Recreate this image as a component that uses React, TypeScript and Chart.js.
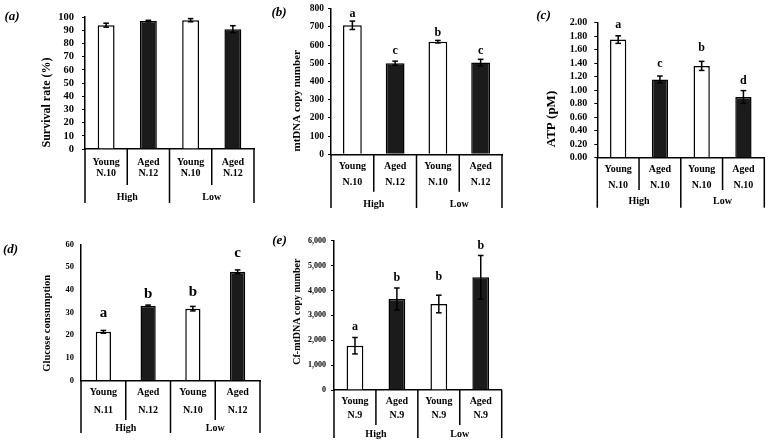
import React, { useEffect, useRef } from "react";
import { Chart, registerables } from "chart.js";

Chart.register(...registerables);

// ---------- data ----------
const groupLabels = ["High", "Low"];
const ageLabels = ["Young", "Aged", "Young", "Aged"];

const aSizes = ["N.10", "N.12", "N.10", "N.12"];
const aValues = [93.8, 96.9, 97.6, 90.8];
const aErrors = [1.5, 0.6, 1.2, 2.6];
const aLetters: string[] = [];
const aLetterLevels: number[] = [];

const bSizes = ["N.10", "N.12", "N.10", "N.12"];
const bValues = [709, 501, 619, 504];
const bErrors = [23, 11, 7, 18];
const bLetters = ["a", "c", "b", "c"];
const bLetterLevels = [771, 568, 667, 568];

const cSizes = ["N.10", "N.10", "N.10", "N.10"];
const cValues = [1.75, 1.16, 1.36, 0.9];
const cErrors = [0.056, 0.05, 0.067, 0.094];
const cLetters = ["a", "c", "b", "d"];
const cLetterLevels = [1.966, 1.386, 1.63, 1.134];

const dSizes = ["N.11", "N.12", "N.10", "N.12"];
const dValues = [21.4, 32.9, 31.6, 47.9];
const dErrors = [0.6, 0.3, 1.0, 0.8];
const dLetters = ["a", "b", "b", "c"];
const dLetterLevels = [29.6, 37.9, 39.1, 56];

const eSizes = ["N.9", "N.9", "N.9", "N.9"];
const eValues = [1780, 3657, 3456, 4529];
const eErrors = [330, 442, 354, 877];
const eLetters = ["a", "b", "b", "b"];
const eLetterLevels = [2545, 4489, 4555, 5800];

// ---------- styles / layout ----------
const SERIF = "'Times New Roman', 'Liberation Serif', serif";
const BAR_COLORS = ["#ffffff", "#1b1b1b", "#ffffff", "#1b1b1b"];

type Panel = {
  id: string;
  label: string;
  title: string;
  sizes: string[];
  values: number[];
  errors: number[];
  letters: string[];
  letterLevels: number[];
  max: number;
  step: number;
  fmt: (v: number) => string;
  left: number; top: number; w: number; h: number;
  axisX: number; plotRight: number; plotTop: number; plotBottom: number;
  tableBottom: number; innerBottom: number; line1Y: number; lineH: number; groupY: number;
  tickFont: number; tickLen: number; tickPad: number; barPct: number;
  titleX: number; titleY: number; titleSize: number;
  labelX: number; labelY: number; letterSize: number;
};

const intFmt = (v: number) => String(Math.round(v));

const panels: Panel[] = [
  {
    id: "a", label: "(a)", title: "Survival rate (%)",
    sizes: aSizes, values: aValues, errors: aErrors, letters: aLetters, letterLevels: aLetterLevels,
    max: 100, step: 10, fmt: intFmt,
    left: 0, top: 0, w: 262, h: 215,
    axisX: 85, plotRight: 254, plotTop: 17, plotBottom: 149,
    tableBottom: 203, innerBottom: 185, line1Y: 162, lineH: 11.6, groupY: 197,
    tickFont: 10.5, tickLen: 3, tickPad: 8, barPct: 0.4,
    titleX: 47, titleY: 102.5, titleSize: 12, labelX: 12, labelY: 17, letterSize: 12,
  },
  {
    id: "b", label: "(b)", title: "mtDNA copy number",
    sizes: bSizes, values: bValues, errors: bErrors, letters: bLetters, letterLevels: bLetterLevels,
    max: 800, step: 100, fmt: intFmt,
    left: 262, top: 0, w: 250, h: 215,
    axisX: 331, plotRight: 502, plotTop: 7.3, plotBottom: 154.3,
    tableBottom: 208, innerBottom: 191.7, line1Y: 166.7, lineH: 16, groupY: 204,
    tickFont: 9.5, tickLen: 3, tickPad: 4, barPct: 0.44,
    titleX: 297, titleY: 100.8, titleSize: 11, labelX: 279, labelY: 13, letterSize: 12,
  },
  {
    id: "c", label: "(c)", title: "ATP (pM)",
    sizes: cSizes, values: cValues, errors: cErrors, letters: cLetters, letterLevels: cLetterLevels,
    max: 2, step: 0.2, fmt: (v: number) => v.toFixed(2),
    left: 512, top: 0, w: 258, h: 215,
    axisX: 597.3, plotRight: 764.3, plotTop: 22.7, plotBottom: 157.7,
    tableBottom: 207.7, innerBottom: 190, line1Y: 169, lineH: 16, groupY: 201.7,
    tickFont: 10, tickLen: 3, tickPad: 7, barPct: 0.39,
    titleX: 552, titleY: 119, titleSize: 13, labelX: 543.5, labelY: 16, letterSize: 12,
  },
  {
    id: "d", label: "(d)", title: "Glucose consumption",
    sizes: dSizes, values: dValues, errors: dErrors, letters: dLetters, letterLevels: dLetterLevels,
    max: 60, step: 10, fmt: intFmt,
    left: 0, top: 215, w: 265, h: 228,
    axisX: 81, plotRight: 260, plotTop: 244.3, plotBottom: 380.3,
    tableBottom: 433, innerBottom: 420, line1Y: 392.7, lineH: 17.3, groupY: 428.3,
    tickFont: 8.5, tickLen: 0, tickPad: 7, barPct: 0.34,
    titleX: 47, titleY: 323.3, titleSize: 10.6, labelX: 10.5, labelY: 250, letterSize: 15,
  },
  {
    id: "e", label: "(e)", title: "Cf-mtDNA copy number",
    sizes: eSizes, values: eValues, errors: eErrors, letters: eLetters, letterLevels: eLetterLevels,
    max: 6000, step: 1000, fmt: (v: number) => Math.round(v).toLocaleString("en-US"),
    left: 265, top: 215, w: 247, h: 228,
    axisX: 334, plotRight: 501.7, plotTop: 240.7, plotBottom: 390,
    tableBottom: 438, innerBottom: 425, line1Y: 401.7, lineH: 14, groupY: 434,
    tickFont: 8, tickLen: 3, tickPad: 5, barPct: 0.4,
    titleX: 297, titleY: 311.7, titleSize: 10, labelX: 279.5, labelY: 241, letterSize: 12,
  },
];

function decor(p: Panel) {
  return {
    id: "decor_" + p.id,
    afterDraw(chart: any) {
      const ctx: CanvasRenderingContext2D = chart.ctx;
      const xs = chart.scales.x;
      const ys = chart.scales.y;
      const ca = chart.chartArea;
      const ox = p.left;
      const oy = p.top;
      const meta = chart.getDatasetMeta(0);
      const line = (x0: number, y0: number, x1: number, y1: number) => {
        ctx.beginPath();
        ctx.moveTo(x0, y0);
        ctx.lineTo(x1, y1);
        ctx.stroke();
      };
      ctx.save();
      ctx.strokeStyle = "#000";
      ctx.fillStyle = "#000";
      ctx.lineWidth = 1.5;

      // error bars
      const cap = 2.8;
      p.values.forEach((v, i) => {
        const x = meta.data[i].x;
        const yHi = ys.getPixelForValue(v + p.errors[i]);
        const yLo = ys.getPixelForValue(v - p.errors[i]);
        line(x, yLo, x, yHi);
        line(x - cap, yHi, x + cap, yHi);
        line(x - cap, yLo, x + cap, yLo);
      });

      // significance letters
      ctx.font = `bold ${p.letterSize}px ${SERIF}`;
      ctx.textAlign = "center";
      ctx.textBaseline = "middle";
      p.letters.forEach((t, i) => {
        const x = meta.data[i].x;
        ctx.fillText(t, x, ys.getPixelForValue(p.letterLevels[i]));
      });

      // category table lines
      const px = [0, 1, 2, 3].map((i) => xs.getPixelForValue(i));
      const b01 = (px[0] + px[1]) / 2;
      const b12 = (px[1] + px[2]) / 2;
      const b23 = (px[2] + px[3]) / 2;
      const yb = ca.bottom;
      const tb = p.tableBottom - oy;
      const ib = p.innerBottom - oy;
      ctx.lineWidth = 1.5;
      line(ca.left, yb, ca.left, tb);
      line(b01, yb, b01, ib);
      line(b12, yb, b12, tb);
      line(b23, yb, b23, ib);
      line(ca.right, yb, ca.right, tb);

      // group labels
      ctx.font = `bold 10px ${SERIF}`;
      ctx.fillText(groupLabels[0], (ca.left + b12) / 2, p.groupY - oy);
      ctx.fillText(groupLabels[1], (b12 + ca.right) / 2, p.groupY - oy);

      // axis title
      ctx.save();
      ctx.translate(p.titleX - ox, p.titleY - oy);
      ctx.rotate(-Math.PI / 2);
      ctx.font = `bold ${p.titleSize}px ${SERIF}`;
      ctx.fillText(p.title, 0, 0);
      ctx.restore();

      // panel label
      ctx.font = `italic bold 13px ${SERIF}`;
      ctx.fillText(p.label, p.labelX - ox, p.labelY - oy);
      ctx.restore();
    },
  };
}

function PanelChart({ p }: { p: Panel }) {
  const ref = useRef<HTMLCanvasElement | null>(null);
  useEffect(() => {
    if (!ref.current) return;
    const chart = new Chart(ref.current, {
      type: "bar",
      data: {
        labels: p.sizes.map((s, i) => [ageLabels[i], s]),
        datasets: [
          {
            data: p.values,
            backgroundColor: BAR_COLORS,
            borderColor: "#000",
            borderWidth: 1.5,
            barPercentage: p.barPct,
            categoryPercentage: 1,
          },
        ],
      },
      options: {
        responsive: false,
        animation: false,
        devicePixelRatio: 1,
        layout: {
          padding: {
            left: 0,
            top: p.plotTop - p.top,
            right: p.left + p.w - p.plotRight,
            bottom: p.top + p.h - p.tableBottom,
          },
        },
        plugins: { legend: { display: false }, tooltip: { enabled: false } },
        scales: {
          x: {
            grid: { display: false, drawTicks: false },
            border: { display: true, color: "#000", width: 1.5 },
            ticks: {
              color: "#000",
              autoSkip: false,
              maxRotation: 0,
              minRotation: 0,
              padding: p.line1Y - p.plotBottom - p.lineH / 2,
              font: { family: SERIF, size: 10, weight: "bold", lineHeight: `${p.lineH}px` },
            },
            afterFit: (s: any) => {
              s.height = p.tableBottom - p.plotBottom;
            },
          },
          y: {
            min: 0,
            max: p.max,
            grid: {
              display: p.tickLen > 0,
              drawOnChartArea: false,
              drawTicks: p.tickLen > 0,
              tickLength: p.tickLen,
              color: "#000",
              lineWidth: 1,
            },
            border: { display: true, color: "#000", width: 1.5 },
            ticks: {
              stepSize: p.step,
              autoSkip: false,
              color: "#000",
              padding: p.tickPad,
              font: { family: SERIF, size: p.tickFont, weight: "bold", lineHeight: 1 },
              callback: (v: any) => p.fmt(Number(v)),
            },
            afterFit: (s: any) => {
              s.width = p.axisX - p.left;
            },
          },
        },
      } as any,
      plugins: [decor(p)],
    });
    return () => chart.destroy();
  }, [p]);
  return (
    <canvas
      ref={ref}
      width={p.w}
      height={p.h}
      style={{ position: "absolute", left: p.left, top: p.top, width: p.w, height: p.h }}
    />
  );
}

export default function App() {
  return (
    <div
      style={{
        position: "fixed",
        left: 0,
        top: 0,
        width: 770,
        height: 443,
        background: "#fff",
        overflow: "hidden",
      }}
    >
      {panels.map((p) => (
        <PanelChart key={p.id} p={p} />
      ))}
    </div>
  );
}
